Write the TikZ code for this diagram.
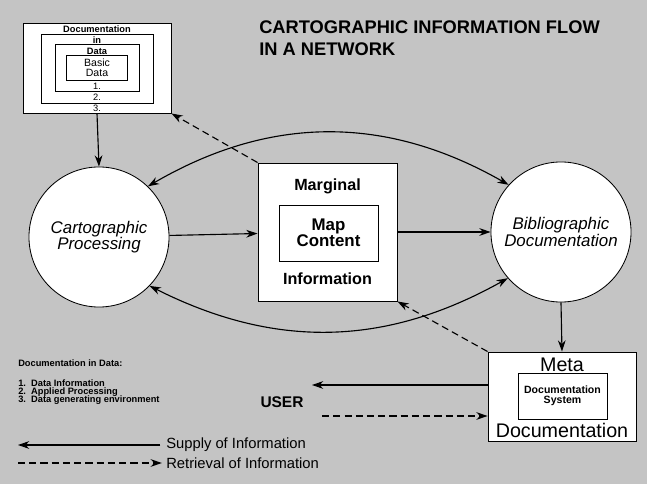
\documentclass[tikz,border=0pt]{standalone}
\usepackage{fontspec}
\setmainfont{Liberation Sans}
\usepackage{tikz}
\usetikzlibrary{arrows.meta}

\tikzset{
  flow/.style={line width=0.8pt, -{Stealth[length=8pt,width=5.5pt]}},
  both/.style={line width=0.8pt, {Stealth[length=8pt,width=5.5pt]}-{Stealth[length=8pt,width=5.5pt]}},
  back/.style={flow, dash pattern=on 5pt off 3pt},
  proc/.style={circle, draw, line width=0.6pt, fill=white, minimum size=3.5cm, inner sep=0pt},
  frame/.style={draw, line width=0.65pt, fill=white, inner sep=0pt},
  inbox/.style={draw, line width=0.5pt, inner sep=0pt},
  tiny/.style={font=\fontsize{6.6}{7}\selectfont\bfseries, inner sep=0pt},
  legend/.style={font=\fontsize{10.5}{12}\selectfont, anchor=west, inner sep=0pt},
}

\begin{document}
\begin{tikzpicture}[x=0.025cm, y=-0.025cm]
\fill[black!23] (0,0) rectangle (647,484);

% title
\node[anchor=west, align=left, inner sep=0pt, font=\fontsize{13}{16}\selectfont\bfseries] (title) at (259,38) {CARTOGRAPHIC INFORMATION FLOW\\IN A NETWORK};

% documentation in data
\node[frame, minimum width=3.7cm, minimum height=2.25cm] (docs) at (97,68) {};
\node[inbox, minimum width=2.8cm, minimum height=1.725cm] (docin) at (97,68.5) {};
\node[inbox, minimum width=2.1cm, minimum height=1.175cm] (docdata) at (97,67.5) {};
\node[inbox, minimum width=1.525cm, minimum height=0.625cm] (basic) at (96.5,68) {};
\node[tiny] at (97,29) {Documentation};
\node[tiny] at (97,40) {in};
\node[tiny] at (97,51) {Data};
\node[tiny, font=\fontsize{7.5}{8}\selectfont, align=center] at (97,68) {Basic\\[-1pt]Data};
\node[tiny, font=\fontsize{6.6}{7}\selectfont] at (97,86) {1.};
\node[tiny, font=\fontsize{6.6}{7}\selectfont] at (97,97) {2.};
\node[tiny, font=\fontsize{6.6}{7}\selectfont] at (97,108) {3.};

% processing and documentation
\node[proc, font=\fontsize{12}{11.5}\selectfont\itshape, align=center] (carto) at (99,237) {Cartographic\\Processing};
\node[proc, font=\fontsize{12}{11.5}\selectfont\itshape, align=center] (biblio) at (561,232) {Bibliographic\\Documentation};

\node[frame, minimum width=3.475cm, minimum height=3.45cm] (marg) at (327.5,232) {};
\node[inbox, minimum width=2.475cm, minimum height=1.4cm, font=\fontsize{12}{11.5}\selectfont\bfseries, align=center] (map) at (328.5,233) {Map\\Content};
\node[font=\fontsize{11.5}{12}\selectfont\bfseries, inner sep=0pt] at (327.5,186) {Marginal};
\node[font=\fontsize{11.5}{12}\selectfont\bfseries, inner sep=0pt] at (327.5,279) {Information};

\node[frame, minimum width=3.7cm, minimum height=2.225cm] (meta) at (562,396.5) {};
\node[inbox, minimum width=2.225cm, minimum height=1.15cm, font=\fontsize{7.5}{7.5}\selectfont\bfseries, align=center] (docsys) at (562.5,396) {Documentation\\System};
\node[font=\fontsize{14}{14}\selectfont, inner sep=0pt] at (562,365) {Meta};
\node[font=\fontsize{14}{14}\selectfont, inner sep=0pt] at (562,430) {Documentation};

\node[font=\fontsize{11}{12}\selectfont\bfseries, inner sep=0pt] (user) at (282,402) {USER};
\coordinate (supto) at (312,385);
\coordinate (retfrom) at (322,416);

% connectors
\draw[flow] (docs.south) -- (carto.north);
\draw[flow] (carto) -- (marg);
\draw[flow] (marg) -- (biblio);
\draw[flow] (biblio.south) -- (meta.north);
\draw[both] (carto.46) to[bend left=30] (biblio.138);
\draw[both] (carto.-44) to[bend right=28] (biblio.-139);
\draw[back] (marg.north west) -- (docs.south east);
\draw[back] (meta.north west) -- (marg.south east);
\draw[flow] (meta.west |- supto) -- (supto);
\draw[back] (retfrom) -- (meta.west |- retfrom);

% legend
\node[tiny, anchor=west] at (18,363) {Documentation in Data:};
\node[tiny, anchor=west] at (18,383) {1.\ \ Data Information};
\node[tiny, anchor=west] at (18,392) {2.\ \ Applied Processing};
\node[tiny, anchor=west] at (18,400) {3.\ \ Data generating environment};

\node[legend] (supply) at (166,445) {Supply of Information};
\node[legend] (retrieval) at (166,463) {Retrieval of Information};
\coordinate (supplyend) at (18,445);
\coordinate (retrstart) at (18,463);
\draw[flow] ([xshift=-4pt]supply.west) -- (supplyend);
\draw[back] (retrstart) -- ([xshift=-3pt]retrieval.west);
\end{tikzpicture}
\end{document}
